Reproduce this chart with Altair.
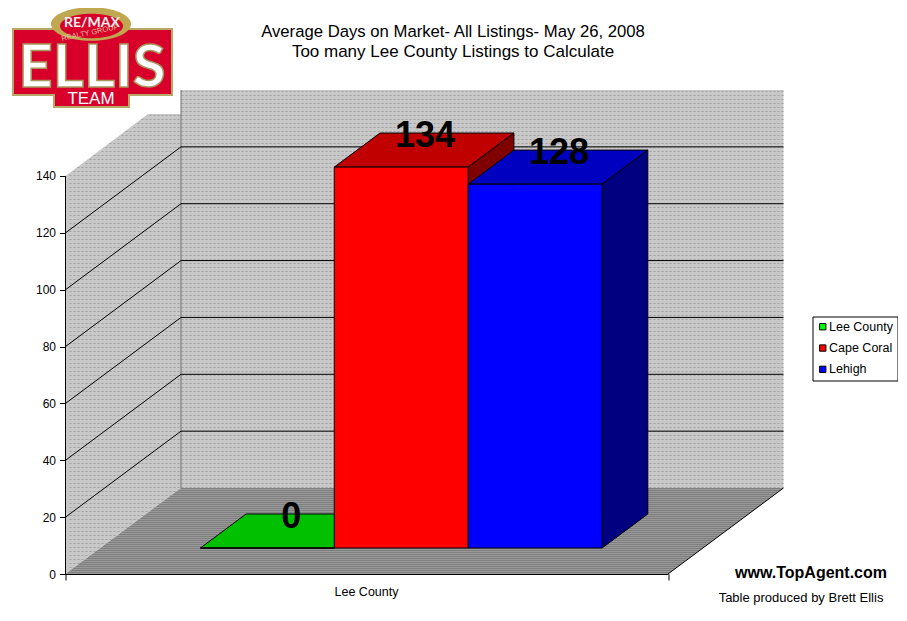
import altair as alt
import pandas as pd

# ---- chart values
series = ["Lee County", "Cape Coral", "Lehigh"]
values = [0, 134, 128]
front_colors = ["#00ff00", "#ff0000", "#0000ff"]
top_colors = ["#00c000", "#c00000", "#0000c0"]
side_colors = ["#008000", "#800000", "#000080"]
y_ticks = [0, 20, 40, 60, 80, 100, 120, 140]
grid_values = [20, 40, 60, 80, 100, 120]
title_lines = ["Average Days on Market- All Listings- May 26, 2008",
               "Too many Lee County Listings to Calculate"]
category_label = "Lee County"

# ---- oblique projection: depth z (0 front .. 1 back) shifts along x and up the value scale
PW, PH = 602.5, 484
Y_MAX = 170.25
DX, DV = 115.5, 30.25
FONT = "Liberation Sans"
BAR_X0, BAR_W = 100.0, 133.9
Z0, Z1 = 0.302, 0.698
WALL_CLIP_Z = 0.714
WALL_CLIP_V = 161.8


def px(x, z=0.0):
    return x + DX * z


def pv(v, z=0.0):
    return v + DV * z


x_scale = alt.Scale(domain=[0, PW], range=[0, PW], nice=False, zero=False)
y_scale = alt.Scale(domain=[0, Y_MAX], nice=False, zero=False)

y_axis = alt.Axis(values=y_ticks, labelFont=FONT, labelFontSize=12, labelColor="#000000",
                  labelPadding=4, orient="left", domain=False, ticks=True, tickColor="#000000",
                  tickSize=6, grid=False, title=None, zindex=1)
x_axis = alt.Axis(values=[0, PW], labels=False, orient="bottom", domain=True, domainColor="#000000",
                  ticks=True, tickColor="#000000", tickSize=6, grid=False, title=None, zindex=1)


def X(f):
    return alt.X(f"{f}:Q", scale=x_scale, axis=x_axis, title=None)


def Y(f):
    return alt.Y(f"{f}:Q", scale=y_scale, axis=y_axis, title=None, stack=None)


def X2(f):
    return alt.X2(f"{f}:Q")


def Y2(f):
    return alt.Y2(f"{f}:Q")


# ---- room: walls and floor
back_wall = pd.DataFrame([{"x": px(0, 1), "x2": px(PW, 1), "y": pv(0, 1), "y2": pv(140, 1)}])
left_wall = pd.DataFrame([
    {"x": px(0, 0), "lo": pv(0, 0), "hi": pv(140, 0)},
    {"x": px(0, WALL_CLIP_Z), "lo": pv(0, WALL_CLIP_Z), "hi": WALL_CLIP_V},
    {"x": px(0, 1), "lo": pv(0, 1), "hi": WALL_CLIP_V},
])
floor = pd.DataFrame([
    {"y": pv(0, 0), "x": px(0, 0), "x2": px(PW, 0)},
    {"y": pv(0, 1), "x": px(0, 1), "x2": px(PW, 1)},
])
WALL, FLOOR = "#c8c8c8", "#808080"
layers = [
    alt.Chart(back_wall).mark_rect(fill=WALL).encode(x=X("x"), x2=X2("x2"), y=Y("y"), y2=Y2("y2")),
    alt.Chart(left_wall).mark_area(fill=WALL, orient="vertical").encode(x=X("x"), y=Y("lo"), y2=Y2("hi")),
    alt.Chart(floor).mark_area(fill=FLOOR, orient="horizontal").encode(y=Y("y"), x=X("x"), x2=X2("x2")),
]

# ---- stipple of the wall and floor surfaces: dashed rows across each surface
V_PER_PX = Y_MAX / PH


def row_value(row_px):
    return (PH - (row_px + 0.5)) * V_PER_PX


def snap(x, step):
    return (int(x / step) + 1) * step


back_rows = [{"x": snap(px(0, 1), 4), "x2": px(PW, 1), "y": row_value(r)} for r in range(1, PH - 86, 4)]
left_rows = []
for r in range(25, PH, 4):
    v = row_value(r)
    z_top = max(0.0, (v - 140) / DV)       # where the slanted top edge crosses this row
    z_bottom = min(1.0, v / DV)            # where the slanted bottom edge crosses this row
    if r <= PH - 86:
        z_bottom = 1.0
    left_rows.append({"x": snap(px(0, z_top), 4), "x2": px(0, z_bottom), "y": v})
floor_rows = []
for r in range(PH - 86 + 1, PH, 2):
    v = row_value(r)
    z = v / DV
    floor_rows.append({"x": snap(px(0, z), 2), "x2": px(PW, z), "y": v})

stipple = alt.Chart(pd.DataFrame(back_rows + left_rows)).mark_rule(
    color="#a0a0a0", strokeWidth=1, strokeDash=[2, 2]).encode(x=X("x"), x2=X2("x2"), y=Y("y"))
stipple_floor = alt.Chart(pd.DataFrame(floor_rows)).mark_rule(
    color="#b0b0b0", strokeWidth=1, strokeDash=[1, 1]).encode(x=X("x"), x2=X2("x2"), y=Y("y"))
layers += [stipple, stipple_floor]

# corner line between walls
corner = pd.DataFrame([{"x": px(0, 1), "y": pv(0, 1), "y2": pv(140, 1)}])
layers.append(alt.Chart(corner).mark_rule(color="#707070").encode(x=X("x"), y=Y("y"), y2=Y2("y2")))
# floor right edge
edge = pd.DataFrame([{"x": px(PW, 0), "x2": px(PW, 1), "y": pv(0, 0), "y2": pv(0, 1)}])
layers.append(alt.Chart(edge).mark_rule(color="#000000").encode(x=X("x"), x2=X2("x2"), y=Y("y"), y2=Y2("y2")))

# ---- gridlines on both walls
grid_back = pd.DataFrame([{"x": px(0, 1), "x2": px(PW, 1), "y": pv(v, 1)} for v in grid_values])
grid_left = pd.DataFrame([{"x": px(0, 0), "x2": px(0, 1), "y": pv(v, 0), "y2": pv(v, 1)} for v in grid_values])
layers.append(alt.Chart(grid_back).mark_rule(color="#000000").encode(x=X("x"), x2=X2("x2"), y=Y("y")))
layers.append(alt.Chart(grid_left).mark_rule(color="#000000").encode(x=X("x"), x2=X2("x2"), y=Y("y"), y2=Y2("y2")))

# ---- y axis line
axis_df = pd.DataFrame([{"x": 0, "y": 0, "y2": 140}])
layers.append(alt.Chart(axis_df).mark_rule(color="#000000").encode(x=X("x"), y=Y("y"), y2=Y2("y2")))

# ---- bars
color_scale = alt.Scale(domain=series, range=front_colors)
legend = alt.Legend(orient="none", legendX=747, legendY=226.5, title=None, fillColor="#ffffff",
                    strokeColor="#000000", padding=4, symbolType="square", symbolSize=40,
                    symbolStrokeColor="#000000", symbolStrokeWidth=1, labelFont=FONT,
                    labelFontSize=12.5, labelColor="#000000", rowPadding=8.3, labelOffset=0)
labels = []
for i, (name, val) in enumerate(zip(series, values)):
    x0, x1 = BAR_X0 + i * BAR_W, BAR_X0 + (i + 1) * BAR_W
    top = pd.DataFrame([
        {"y": pv(val, Z0), "x": px(x0, Z0), "x2": px(x1, Z0)},
        {"y": pv(val, Z1), "x": px(x0, Z1), "x2": px(x1, Z1)},
    ])
    side = pd.DataFrame([
        {"x": px(x1, Z0), "lo": pv(0, Z0), "hi": pv(val, Z0)},
        {"x": px(x1, Z1), "lo": pv(0, Z1), "hi": pv(val, Z1)},
    ])
    layers.append(alt.Chart(top).mark_area(fill=top_colors[i], stroke="#000000", strokeWidth=1,
                                           orient="horizontal").encode(y=Y("y"), x=X("x"), x2=X2("x2")))
    if val > 0:
        layers.append(alt.Chart(side).mark_area(fill=side_colors[i], stroke="#000000", strokeWidth=1,
                                                orient="vertical").encode(x=X("x"), y=Y("lo"), y2=Y2("hi")))
    labels.append({"x": px((x0 + x1) / 2, (Z0 + Z1) / 2), "y": pv(val, Z1), "t": str(val)})

fronts = pd.DataFrame([
    {"series": n, "x": px(BAR_X0 + i * BAR_W, Z0), "x2": px(BAR_X0 + (i + 1) * BAR_W, Z0),
     "y": pv(0, Z0), "y2": pv(v, Z0)}
    for i, (n, v) in enumerate(zip(series, values))
])
layers.append(alt.Chart(fronts).mark_rect(stroke="#000000", strokeWidth=1).encode(
    x=X("x"), x2=X2("x2"), y=Y("y"), y2=Y2("y2"),
    color=alt.Color("series:N", scale=color_scale, legend=legend, sort=series)))

label_df = pd.DataFrame(labels)
layers.append(alt.Chart(label_df).mark_text(font=FONT, fontSize=36, fontWeight="bold", color="#000000",
                                            baseline="middle", align="center", dy=3, dx=1).encode(
    x=X("x"), y=Y("y"), text="t:N"))


# ---- free text and logo (pixel positions in the plot's frame; origin is at image (65.5, 90))
def note(text, ix, iy, size, weight="normal", color="#000000", align="center", angle=0, **kw):
    return alt.Chart(pd.DataFrame([{"t": text}])).mark_text(
        font=kw.pop("font", FONT), fontSize=size, fontWeight=weight, color=color, align=align,
        baseline="middle", angle=angle, **kw).encode(
        x=alt.value(ix - 65.5), y=alt.value(iy - 90), text="t:N")


def box(x0, y0, x1, y1, fill):
    return alt.Chart(pd.DataFrame([{"a": 1}])).mark_rect(fill=fill).encode(
        x=alt.value(x0 - 65.5), x2=alt.value(x1 - 65.5), y=alt.value(y0 - 90), y2=alt.value(y1 - 90))


def oval(cx, cy, size, fill, shape):
    return alt.Chart(pd.DataFrame([{"a": 1}])).mark_point(shape=shape, size=size, fill=fill, filled=True,
                                                          opacity=1, strokeWidth=0).encode(
        x=alt.value(cx - 65.5), y=alt.value(cy - 90))


layers += [
    note(title_lines[0], 453, 31.5, 16.7),
    note(title_lines[1], 453, 51.5, 17),
    note(category_label, 366.5, 592, 12.5),
    note("www.TopAgent.com", 811, 573, 16, weight="bold"),
    note("Table produced by Brett Ellis", 801, 598, 13),
]

# ---- logo
OVAL_GOLD = "M-1,0A1,0.42 0 1,1 1,0A1,0.42 0 1,1 -1,0Z"
OVAL_RED = "M-1,0A1,0.39 0 1,1 1,0A1,0.39 0 1,1 -1,0Z"
LOGO_RED, LOGO_GOLD = "#d8002a", "#b8a868"
layers += [
    box(53, 90, 130, 108, LOGO_GOLD),
    box(12, 28, 173, 96, LOGO_GOLD),
    box(14, 30, 171, 94, LOGO_RED),
    box(55, 92, 128, 106, LOGO_RED),
    oval(91, 24, 6400, "#c0a850", OVAL_GOLD),
    oval(91.5, 26, 3969, LOGO_RED, OVAL_RED),
    note("ELLIS", 92, 69, 60, weight="bold", color="#ffffff", stroke="#a89860", strokeWidth=1.5, font="Lato"),
    note("TEAM", 91, 99, 17, color="#ffffff"),
    note("RE/MAX", 92, 22.8, 14, weight="bold", color="#f8f0f0", font="Lato"),
    note("REALTY GROUP", 90, 33, 7.5, color="#e8c0a0", angle=348),
]

chart = alt.layer(*layers).resolve_scale(color="independent").properties(
    width=PW, height=PH,
    padding={"left": 57.5, "top": 82, "right": 230, "bottom": 45},
    autosize=alt.AutoSizeParams(type="none"),
    background="#ffffff",
).configure_view(stroke=None)

chart.save("out.html", embed_options={"renderer": "svg", "actions": False})
